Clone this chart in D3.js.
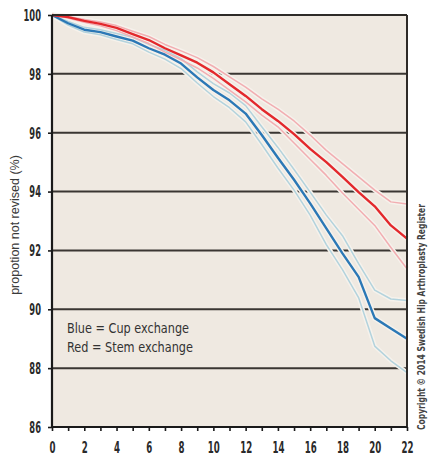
<!DOCTYPE html>
<html><head><meta charset="utf-8">
<script src="https://cdn.jsdelivr.net/npm/d3@7"></script>
<style>
body{margin:0;background:#fff;}
.cond{font-family:"DejaVu Sans Condensed","DejaVu Sans",sans-serif;}
</style></head>
<body><svg id="c" width="430" height="456"></svg>
<script>
const years = d3.range(0, 23);
const redMain  = [100,99.93,99.8,99.7,99.56,99.35,99.15,98.87,98.63,98.38,98.05,97.65,97.25,96.8,96.4,95.95,95.45,95.0,94.5,93.98,93.5,92.85,92.4];
const redUpper = [100,99.95,99.85,99.76,99.64,99.45,99.27,99.0,98.78,98.55,98.25,97.9,97.55,97.15,96.8,96.4,95.92,95.4,94.95,94.5,94.05,93.65,93.58];
const redLower = [100,99.9,99.75,99.63,99.47,99.25,99.03,98.74,98.48,98.2,97.85,97.45,97.05,96.6,96.2,95.65,95.1,94.55,93.95,93.4,92.85,92.1,91.38];
const blueMain  = [100,99.72,99.5,99.42,99.27,99.13,98.87,98.65,98.35,97.88,97.45,97.1,96.65,95.92,95.15,94.4,93.6,92.75,91.9,91.1,89.7,89.35,89.0];
const blueUpper = [100,99.78,99.58,99.5,99.37,99.24,99.0,98.8,98.52,98.07,97.67,97.35,96.92,96.2,95.5,94.75,93.98,93.2,92.5,91.55,90.65,90.35,90.3];
const blueLower = [100,99.66,99.42,99.33,99.17,99.02,98.74,98.5,98.18,97.69,97.23,96.85,96.37,95.6,94.8,94.05,93.2,92.2,91.35,90.4,88.75,88.25,87.85];
const xTicks = d3.range(0, 23, 2);
const yTicks = [86,88,90,92,94,96,98,100];
const yLabel = "propotion not revised (%)";
const legendLines = ["Blue = Cup exchange", "Red = Stem exchange"];
const copyright = "Copyright \u00A9 2014 Swedish Hip Arthroplasty Register";

const svg = d3.select("#c");
const L = 52, R = 407, T = 15, B = 427;
const x = d3.scaleLinear().domain([0, 22]).range([L, R]);
const y = d3.scaleLinear().domain([86, 100]).range([B, T]);
const bg = "#efe9e1";
const sx = 0.62;

svg.append("rect").attr("x", L).attr("y", T).attr("width", R - L).attr("height", B - T).attr("fill", bg);

// gridlines
svg.append("g").selectAll("line").data(yTicks.filter(v => v > 86 && v < 100)).join("line")
  .attr("x1", L).attr("x2", R).attr("y1", d => y(d)).attr("y2", d => y(d))
  .attr("stroke", "#3a3632").attr("stroke-width", 2);

const line = d3.line().x((d, i) => x(years[i])).y(d => y(d));
const series = [
  {v: blueLower, c: "#b3d3dd", w: 1.5},
  {v: blueUpper, c: "#b3d3dd", w: 1.5},
  {v: redLower, c: "#f2aeb2", w: 1.5},
  {v: redUpper, c: "#f2aeb2", w: 1.5},
  {v: blueMain, c: "#2b78b6", w: 2.4},
  {v: redMain, c: "#e3282c", w: 2.4}
];
// halos
svg.append("g").selectAll("path").data(series).join("path")
  .attr("d", d => line(d.v)).attr("fill", "none")
  .attr("stroke", "#f6f2ec").attr("stroke-width", d => d.w + 3);
svg.append("g").selectAll("path").data(series).join("path")
  .attr("d", d => line(d.v)).attr("fill", "none")
  .attr("stroke", d => d.c).attr("stroke-width", d => d.w).attr("stroke-linejoin", "round");

// frame
svg.append("line").attr("x1", L).attr("x2", R).attr("y1", T).attr("y2", T).attr("stroke", "#2e2b28").attr("stroke-width", 2);
svg.append("line").attr("x1", R).attr("x2", R).attr("y1", T).attr("y2", B).attr("stroke", "#2e2b28").attr("stroke-width", 2);

// axes
const xAxis = d3.axisBottom(x).tickValues(years).tickSize(4)
  .tickFormat(d => xTicks.includes(d) ? d : "");
const gx = svg.append("g").attr("transform", `translate(0,${B})`).call(xAxis);
gx.select(".domain").attr("stroke", "#1a1a1a").attr("stroke-width", 2.2).attr("d", `M${L},0H${R}`);
gx.selectAll(".tick line").attr("stroke", "#1a1a1a").attr("stroke-width", 1.6);
gx.selectAll("text").attr("class", "cond").attr("y", 26).attr("dy", null)
  .attr("transform", `scale(${sx},1)`)
  .style("font-size", "15.5px").style("font-weight", "bold").attr("fill", "#2a2a2a");

const yAxis = d3.axisLeft(y).tickValues(yTicks).tickSize(4).tickFormat(d3.format("d"));
const gy = svg.append("g").attr("transform", `translate(${L},0)`).call(yAxis);
gy.select(".domain").attr("stroke", "#1a1a1a").attr("stroke-width", 2.2).attr("d", `M0,${T}V${B}`);
gy.selectAll(".tick line").attr("stroke", "#1a1a1a").attr("stroke-width", 1.6);
gy.selectAll("text").attr("class", "cond").attr("x", -11 / sx).attr("dy", "0.36em")
  .attr("transform", `scale(${sx},1)`)
  .style("font-size", "15px").style("font-weight", "bold").attr("fill", "#2a2a2a");

// y label
svg.append("text").attr("transform", `translate(19,${(T + B) / 2 + 4}) rotate(-90)`)
  .attr("text-anchor", "middle").style("font-family", "'Liberation Sans', Arial, sans-serif")
  .style("font-size", "12.5px").attr("fill", "#3a3a3a").text(yLabel);

// legend
svg.append("g").selectAll("text").data(legendLines).join("text")
  .attr("class", "cond").attr("x", 67).attr("y", (d, i) => 333 + i * 19)
  .attr("textLength", (d, i) => i === 0 ? 122 : 126).attr("lengthAdjust", "spacingAndGlyphs")
  .style("font-size", "14.5px").attr("fill", "#333").text(d => d);

// copyright
svg.append("text").attr("class", "cond").attr("transform", `translate(425,430) rotate(-90)`)
  .attr("textLength", 226).attr("lengthAdjust", "spacingAndGlyphs")
  .style("font-size", "11px").style("font-weight", "bold").attr("fill", "#444").text(copyright);
</script>
</body></html>
